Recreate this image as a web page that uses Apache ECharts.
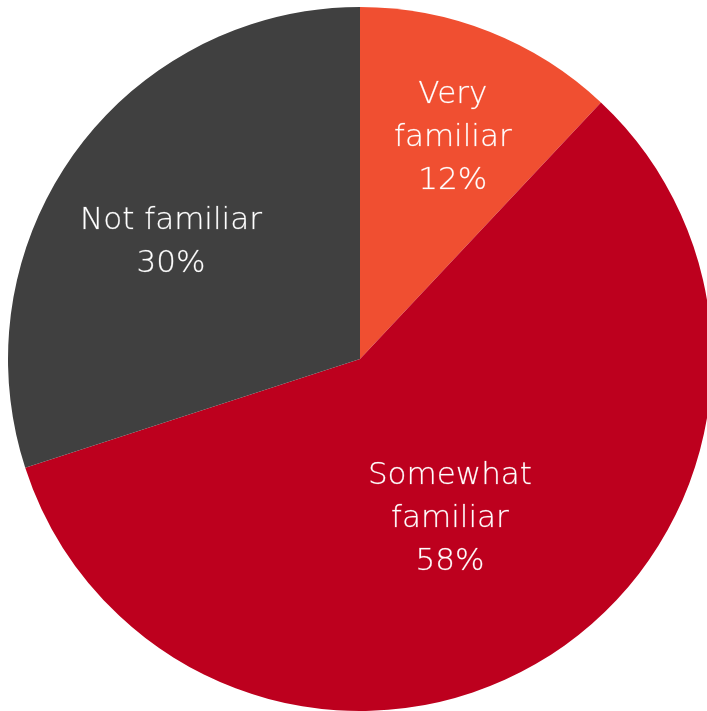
<!DOCTYPE html>
<html>
<head>
<meta charset="utf-8">
<script src="https://cdn.jsdelivr.net/npm/echarts@6/dist/echarts.min.js"></script>
<style>
html,body{margin:0;padding:0;background:#fff;}
#c{width:707px;height:711px;}
</style>
</head>
<body>
<div id="c"></div>
<script>
const categories = ['Very familiar', 'Somewhat familiar', 'Not familiar'];
const labelLines = ['Very\nfamiliar', 'Somewhat\nfamiliar', 'Not familiar'];
const values = [12, 58, 30];

const colors = ['#F04F31', '#BD001E', '#404040'];
// label placement: polar (fraction of radius, angle in degrees clockwise from top)
const labelPolar = [[0.689, 22.5], [0.514, 150.2], [0.636, 302.4]];
const CX = 360, CY = 359, R = 352;

const chart = echarts.init(document.getElementById('c'), null, {renderer: 'canvas'});
chart.setOption({
  animation: false,
  backgroundColor: '#ffffff',
  series: [{
    type: 'pie',
    center: [CX, CY],
    radius: R,
    startAngle: 90,
    clockwise: true,
    silent: true,
    itemStyle: {borderWidth: 0},
    label: {
      show: true,
      position: 'inside',
      color: '#ffffff',
      fontFamily: '"DejaVu Sans", sans-serif',
      fontWeight: 300,
      fontSize: 31,
      lineHeight: 43,
      align: 'center',
      textBorderColor: 'rgba(255,255,255,0.35)',
      textBorderWidth: 0.6,
      formatter: p => labelLines[p.dataIndex] + '\n' + p.value + '%'
    },
    labelLine: {show: false},
    labelLayout: function (params) {
      const lp = labelPolar[params.dataIndex];
      const a = lp[1] * Math.PI / 180;
      return {
        x: CX + lp[0] * R * Math.sin(a),
        y: CY - lp[0] * R * Math.cos(a) + 3,
        align: 'center',
        verticalAlign: 'middle'
      };
    },
    data: categories.map((c, i) => ({name: c, value: values[i], itemStyle: {color: colors[i]}}))
  }]
});
</script>
</body>
</html>
